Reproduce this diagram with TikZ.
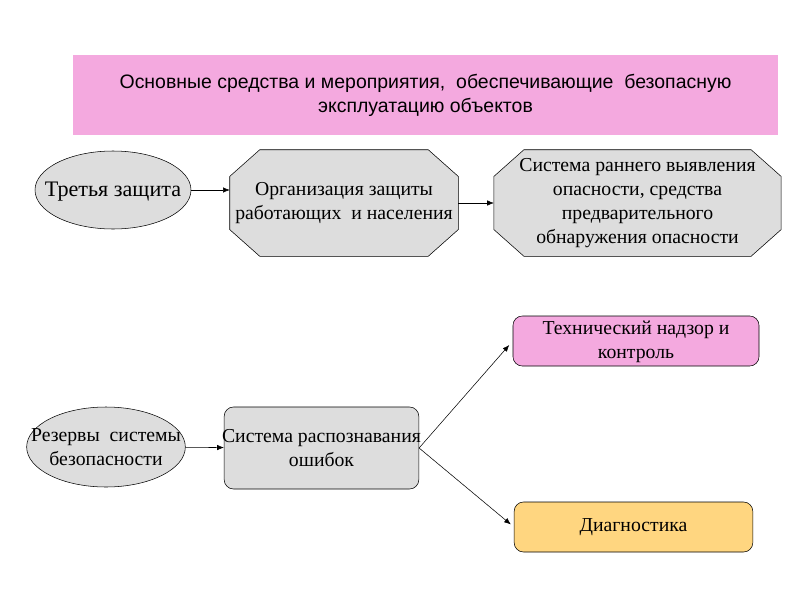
\documentclass[tikz,border=0pt]{standalone}
\usepackage{fontspec}
\setmainfont{Liberation Serif}
\newfontfamily\arialfont{Liberation Sans}
\usetikzlibrary{shapes.geometric,arrows.meta}
\definecolor{pinkfill}{HTML}{F4A9DF}
\definecolor{grayfill}{HTML}{DDDDDD}
\definecolor{orangefill}{HTML}{FFD680}
\tikzset{
	oval/.style={draw, ellipse, fill=grayfill, inner sep=0pt},
	octbox/.style={rectangle, inner sep=0pt},
	roundbox/.style={draw, rectangle, rounded corners=7pt, inner sep=0pt},
	boxtext/.style={align=center, inner sep=0pt, font=\fontsize{14.8}{18}\selectfont},
	link/.style={-{Latex[length=5pt,width=4pt]}, thin}
}
\begin{document}
\begin{tikzpicture}[x=0.75pt, y=-0.75pt]
	% page size
	\useasboundingbox (0,0) rectangle (800,600);
	% heading
	\node[fill=pinkfill, minimum width=529pt, minimum height=60pt, align=center,
		font=\arialfont\fontsize{14.6}{18}\selectfont] (title) at (425.5,95)
		{Основные средства и мероприятия, \ обеспечивающие \ безопасную\\эксплуатацию объектов};
	% shapes
	\node[oval, minimum width=117pt, minimum height=58.5pt] (third) at (113,190) {};
	\node[oval, minimum width=119pt, minimum height=60pt] (reserve) at (106,447) {};
	\node[octbox, minimum width=171pt, minimum height=79.5pt] (org) at (344,203) {};
	\node[octbox, minimum width=215pt, minimum height=79.5pt] (early) at (637.5,203) {};
	\node[roundbox, fill=grayfill, minimum width=146pt, minimum height=61.5pt] (detect) at (321.5,448) {};
	\node[roundbox, fill=pinkfill, minimum width=184.5pt, minimum height=37.5pt] (tech) at (636,341) {};
	\node[roundbox, fill=orangefill, minimum width=179pt, minimum height=37.5pt] (diag) at (633.5,527) {};
	% octagon outlines
	\foreach \n in {org,early}
	{
		\filldraw[fill=grayfill]
			([xshift=22.5pt]\n.north west) -- ([xshift=-22.5pt]\n.north east)
			-- ([yshift=-20pt]\n.north east) -- ([yshift=20pt]\n.south east)
			-- ([xshift=-22.5pt]\n.south east) -- ([xshift=22.5pt]\n.south west)
			-- ([yshift=20pt]\n.south west) -- ([yshift=-20pt]\n.north west) -- cycle;
	}
	% labels
	\node[boxtext, font=\fontsize{16.6}{18}\selectfont] at ([yshift=-1.5pt]third) {Третья защита};
	\node[boxtext] at (reserve) {Резервы \ системы\\безопасности};
	\node[boxtext] at (org) {Организация защиты\\работающих \ и населения};
	\node[boxtext] at (early) {Система раннего выявления\\опасности, средства\\предварительного\\обнаружения опасности};
	\node[boxtext] at (detect) {Система распознавания\\ошибок};
	\node[boxtext] at ([yshift=-1pt]tech) {Технический надзор и\\контроль};
	\node[boxtext] at (diag) {Диагностика};
	% arrows
	\draw[link] (third.east) -- (third.east -| org.west);
	\draw[link] (org.east) -- (early.west);
	\draw[link] (reserve) -- (detect);
	\draw[link, shorten >=4pt] (detect.east) -- (tech.west);
	\draw[link, shorten >=3pt] (detect.east) -- (diag.west);
\end{tikzpicture}
\end{document}
